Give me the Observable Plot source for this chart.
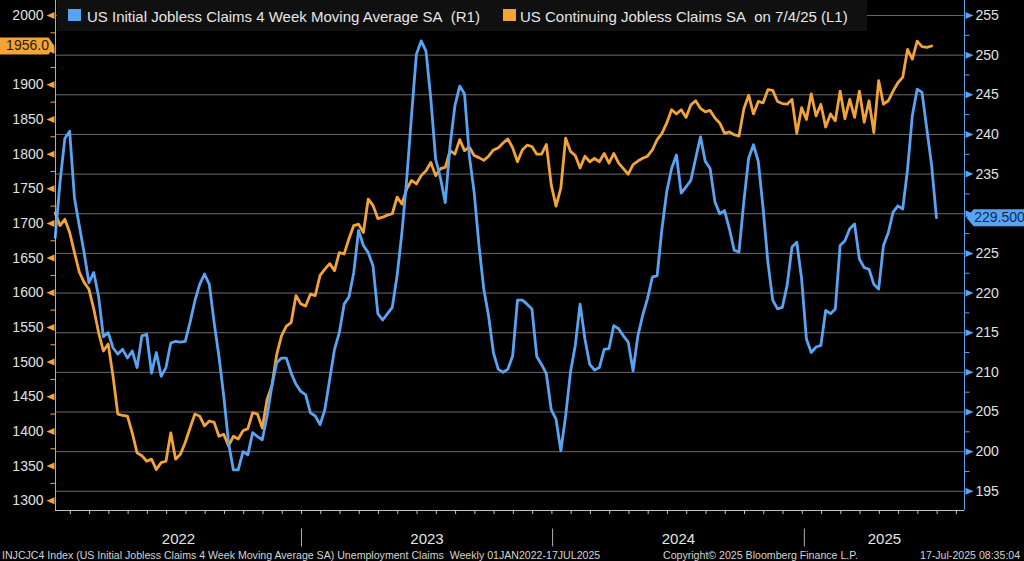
<!DOCTYPE html>
<html><head><meta charset="utf-8">
<script src="https://cdn.jsdelivr.net/npm/d3@7"></script>
<script src="https://cdn.jsdelivr.net/npm/@observablehq/plot@0.6"></script>
<style>
html,body{margin:0;padding:0;background:#000;overflow:hidden;width:1024px;height:561px;}
#wrap{position:relative;width:1024px;height:561px;background:#000;}
#legend{position:absolute;left:57px;top:0;width:810px;height:31px;background:#101010;font:15px/15px "Liberation Sans",sans-serif;color:#e6e6e6;white-space:nowrap;}
#legend .sw{position:absolute;top:9px;width:13px;height:12px;}
#legend .tx{position:absolute;top:9px;}
#footer{position:absolute;left:0;top:549px;width:1024px;height:12px;overflow:hidden;font:10.6px/12px "Liberation Sans",sans-serif;color:#d4d4d4;white-space:nowrap;}
#footer span{position:absolute;top:0;}
</style></head><body><div id="wrap"></div>
<script>
// ---- data (weekly, thousands) ----
const firstWeek = "2022-01-08";
const initialClaims = [227,234,239.5,240.4,232,228.5,225.1,221.3,222.6,219.6,
214.5,215,213.1,212.3,212.9,211.8,212.7,210.6,214.6,214.8,
209.9,212.5,209.5,210.6,213.7,213.9,213.8,213.9,216.3,219,
221.1,222.4,221.1,216.3,212,207,201.1,197.7,197.7,200,
199.6,202.4,201.9,201.5,204.5,208.3,211.2,211.8,211.8,209.9,
208.5,207.6,207.2,204.9,204.5,203.4,205.3,209.1,212.9,215,
218.6,219.5,222.6,227.9,226,225.1,223.4,217.4,216.6,217.4,
218.2,222.2,227.6,234.4,242.4,250.1,251.8,250.5,244.5,236.9,
234.5,231.4,238.6,243.6,246.1,245.1,237.3,232.7,226,220.5,
217.1,212.5,210.4,210,210.4,212.1,219.1,219.1,218.6,218,
212,211,209.8,205.3,204.1,200.1,204.5,210,213.4,218.6,
214.2,211,210.3,210.6,212.9,213,215.9,215.5,214.6,213.8,
210.2,214.6,217.2,219.3,222,222.2,228.1,232.8,235.7,237.4,
232.6,233.4,234.2,237,239.7,236.6,235.7,231.5,230,230.4,
228.1,225.4,225.2,231.5,237,238.7,236.6,230.7,223.9,219.1,
218,218.2,221,225.8,226.4,221.8,214.2,212.5,213.2,213.4,
217.8,217.4,218,226,226.6,228.1,228.7,224.3,223.2,223,
221.1,220.5,226,227.6,230.2,231,230.6,235.6,242.4,245.7,
245.3,240.7,236.1,229.5];
const continuingClaims = [1715,1697,1706,1687,1658,1630,1615,1605,1577,1543,
1516,1526,1480,1425,1423,1422,1398,1369,1365,1357,
1360,1345,1355,1357,1398,1360,1367,1384,1405,1425,
1422,1408,1415,1413,1393,1396,1379,1393,1389,1401,
1404,1427,1425,1405,1446,1466,1511,1538,1552,1557,
1596,1584,1581,1598,1596,1625,1634,1642,1632,1658,
1656,1678,1697,1699,1687,1735,1726,1707,1709,1712,
1714,1738,1728,1750,1762,1757,1769,1776,1788,1769,
1779,1781,1805,1800,1821,1805,1810,1798,1795,1791,
1797,1806,1809,1816,1822,1809,1789,1806,1813,1811,
1800,1800,1814,1756,1725,1751,1823,1804,1798,1780,
1797,1789,1794,1789,1801,1787,1801,1787,1779,1771,
1785,1790,1794,1797,1806,1821,1830,1845,1864,1858,
1864,1853,1871,1877,1866,1861,1863,1852,1845,1830,
1832,1828,1826,1865,1885,1858,1876,1874,1893,1892,
1876,1873,1872,1879,1830,1867,1850,1887,1855,1872,
1839,1858,1848,1891,1851,1879,1853,1891,1846,1877,
1831,1906,1872,1877,1891,1903,1911,1951,1937,1963,
1955,1954,1956];
const rightTicks = [195,200,205,210,215,220,225,230,235,240,245,250,255];
const leftTicks = [1300,1350,1400,1450,1500,1550,1600,1650,1700,1750,1800,1850,1900,1950,2000];
const yearLabels = ["2022","2023","2024","2025"];
const lastInitialLabel = "229.500";
const lastContinuingLabel = "1956.0";
const legendLabels = ["US Initial Jobless Claims 4 Week Moving Average SA\u00a0 (R1)", "US Continuing Jobless Claims SA\u00a0 on 7/4/25 (L1)"];
const footerTexts = ["INJCJC4 Index (US Initial Jobless Claims 4 Week Moving Average SA) Unemployment Claims\u00a0 Weekly 01JAN2022-17JUL2025", "Copyright\u00a9 2025 Bloomberg Finance L.P.", "17-Jul-2025 08:35:04"];

// ---- setup ----
const orange = "#f2a33a", blue = "#59a3f3";
const font = "Liberation Sans";
const start = new Date(firstWeek + "T00:00:00Z");
const xStart = new Date(Date.UTC(2022,0,8,10)), xEnd = new Date(Date.UTC(2025,7,21,19));
const yDomain = [192.58, 256.89];
const toR = L => 255 - (2000 - L) / 11.44; // left axis (L1) expressed on right-axis scale

const blueRows = initialClaims.map((v,i)=>({date: d3.utcDay.offset(start, 7*i), v}));
const orangeRows = continuingClaims.map((v,i)=>({date: d3.utcDay.offset(start, 7*i), v: toR(v)}));
const lastBlue = blueRows[blueRows.length-1], lastOrange = continuingClaims[continuingClaims.length-1];

// tick labels hidden behind the last-value tags (as in the reference)
const leftLabelTicks = leftTicks.filter(d => Math.abs(toR(d) - toR(lastOrange)) > 1.6);
const rightLabelTicks = rightTicks.filter(d => Math.abs(d - lastBlue.v) > 1.6);

const sym = fn => ({draw(c){ fn(c); }});
const triLeft = sym(c=>{c.moveTo(-9,0);c.lineTo(-1,-3.5);c.lineTo(-1,3.5);c.closePath();});
const triRight = sym(c=>{c.moveTo(9,0);c.lineTo(1,-3.5);c.lineTo(1,3.5);c.closePath();});
const minorLeft = sym(c=>{c.moveTo(-5,0);c.lineTo(0,0);});
const minorRight = sym(c=>{c.moveTo(0,0);c.lineTo(5,0);});
const sepSym = sym(c=>{c.moveTo(0,18);c.lineTo(0,36);});
const tagLeftSym = sym(c=>{c.moveTo(-56,-8.5);c.lineTo(-7,-8.5);c.lineTo(-1,0);c.lineTo(-7,8.5);c.lineTo(-56,8.5);c.closePath();});
const tagRightSym = sym(c=>{c.moveTo(2,0);c.lineTo(9,-8.5);c.lineTo(62,-8.5);c.lineTo(62,8.5);c.lineTo(9,8.5);c.closePath();});

const leftMinor = leftTicks.slice(0,-1).map((d,i)=>(d+leftTicks[i+1])/2);
const rightMinor = rightTicks.slice(0,-1).map((d,i)=>(d+rightTicks[i+1])/2);
const tickDates = d3.range(0, 60).map(k => d3.utcDay.offset(new Date(Date.UTC(2022,0,30)), 28*k)).filter(d => d <= xEnd);
const years = yearLabels.map(s => {
  const y = +s;
  const a = Math.max(Date.UTC(y,0,1), +xStart), b = Math.min(Date.UTC(y+1,0,1), +xEnd);
  return {label: s, date: new Date((a+b)/2)};
});
const seps = yearLabels.slice(1).map(s => new Date(Date.UTC(+s,0,1)));

const chart = Plot.plot({
  width: 1024, height: 548,
  marginLeft: 55, marginRight: 60, marginTop: 0, marginBottom: 38,
  x: {type: "utc", domain: [xStart, xEnd]},
  y: {domain: yDomain, axis: null},
  style: {background: "#000", color: "#ddd", fontFamily: font, overflow: "visible"},
  marks: [
    Plot.ruleY(rightTicks, {stroke: "#6a6a6a", strokeWidth: 1}),
    Plot.line(orangeRows, {x: "date", y: "v", stroke: orange, strokeWidth: 2.8, strokeLinejoin: "round"}),
    Plot.line(blueRows, {x: "date", y: "v", stroke: blue, strokeWidth: 2.8, strokeLinejoin: "round"}),
    Plot.ruleX([xStart], {stroke: orange, strokeWidth: 1}),
    Plot.ruleX([xEnd], {stroke: blue, strokeWidth: 1}),
    Plot.ruleY([yDomain[0]], {stroke: "#c4c4c4", strokeWidth: 1}),
    Plot.axisX({ticks: tickDates, tickFormat: () => "", tickSize: 4, stroke: "#c4c4c4"}),
    Plot.dot(seps, {x: d => d, y: () => yDomain[0], symbol: sepSym, r: 3, fill: "none", stroke: "#b0b0b0", strokeWidth: 1}),
    Plot.text(years, {x: "date", y: () => yDomain[0], text: "label", dy: 29, fill: "#e4e4e4", fontSize: 15, fontFamily: font}),
    Plot.dot(leftTicks, {x: () => xStart, y: d => toR(d), symbol: triLeft, r: 3, fill: orange, stroke: "none"}),
    Plot.dot(leftMinor, {x: () => xStart, y: d => toR(d), symbol: minorLeft, r: 3, fill: "none", stroke: orange, strokeWidth: 1}),
    Plot.dot(rightTicks, {x: () => xEnd, y: d => d, symbol: triRight, r: 3, fill: blue, stroke: "none"}),
    Plot.dot(rightMinor, {x: () => xEnd, y: d => d, symbol: minorRight, r: 3, fill: "none", stroke: blue, strokeWidth: 1}),
    Plot.text(leftLabelTicks, {x: () => xStart, y: d => toR(d), text: d => String(d), textAnchor: "end", dx: -12, fill: "#e0e0e0", fontSize: 14, fontFamily: font}),
    Plot.text(rightLabelTicks, {x: () => xEnd, y: d => d, text: d => String(d), textAnchor: "start", dx: 11, fill: "#e0e0e0", fontSize: 14, fontFamily: font}),
    Plot.dot([lastOrange], {x: () => xStart, y: d => toR(d), symbol: tagLeftSym, r: 3, fill: orange, stroke: "none"}),
    Plot.text([lastOrange], {x: () => xStart, y: d => toR(d), text: () => lastContinuingLabel, dx: -28, fill: "#2a1a00", fontSize: 14, fontFamily: font}),
    Plot.dot([lastBlue], {x: () => xEnd, y: "v", symbol: tagRightSym, r: 3, fill: blue, stroke: "none"}),
    Plot.text([lastBlue], {x: () => xEnd, y: "v", text: () => lastInitialLabel, dx: 35, fill: "#0c2a5c", fontSize: 14, fontFamily: font})
  ]
});

const wrap = document.getElementById("wrap");
wrap.appendChild(chart);

const legend = document.createElement("div");
legend.id = "legend";
legend.innerHTML =
  `<span class="sw" style="left:11px;background:${blue}"></span><span class="tx" style="left:30px">${legendLabels[0]}</span>` +
  `<span class="sw" style="left:446px;background:${orange}"></span><span class="tx" style="left:463px">${legendLabels[1]}</span>`;
wrap.appendChild(legend);

const footer = document.createElement("div");
footer.id = "footer";
footer.innerHTML = `<span style="left:2px">${footerTexts[0]}</span><span style="left:663px">${footerTexts[1]}</span><span style="left:920px">${footerTexts[2]}</span>`;
wrap.appendChild(footer);
</script>
</body></html>
